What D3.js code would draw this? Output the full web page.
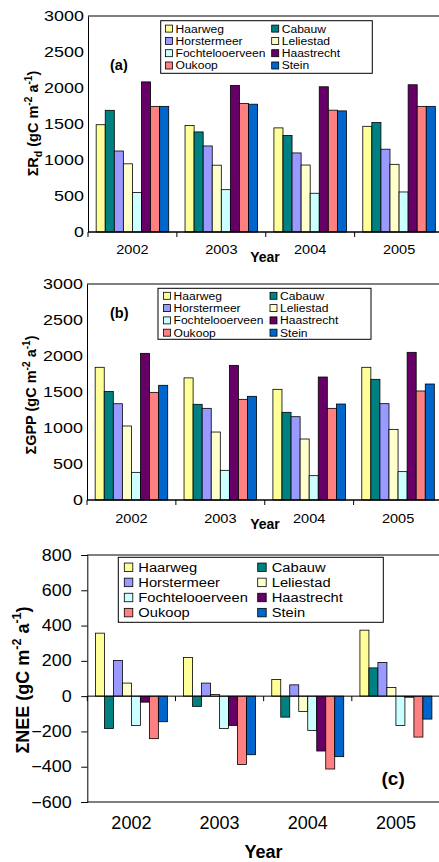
<!DOCTYPE html>
<html>
<head>
<meta charset="utf-8">
<script src="https://cdn.jsdelivr.net/npm/d3@7"></script>
<style>
  html, body { margin: 0; padding: 0; background: #fff; }
  svg { display: block; font-family: "Liberation Sans", Arial, sans-serif; }
</style>
</head>
<body>
<svg id="chart" width="439" height="862"></svg>
<script>
// ---------------- data ----------------
const years = ["2002", "2003", "2004", "2005"];
const sites = ["Haarweg", "Cabauw", "Horstermeer", "Leliestad",
               "Fochtelooerveen", "Haastrecht", "Oukoop", "Stein"];
const siteColors = ["#ffff99", "#008080", "#9999ff", "#ffffcc",
                    "#ccffff", "#660066", "#ff8080", "#0066cc"];

// rows = years, columns = sites (same order as `sites`)
const rdValues = [
  [1490, 1690, 1125, 947, 550, 2085, 1745, 1745],
  [1478, 1390, 1195, 928, 588, 2035, 1785, 1775],
  [1446, 1340, 1098, 930, 538, 2017, 1692, 1682],
  [1468, 1520, 1150, 940, 556, 2045, 1745, 1745]
];
const gppValues = [
  [1843, 1507, 1337, 1028, 384, 2037, 1495, 1593],
  [1696, 1329, 1273, 944, 412, 1870, 1398, 1440],
  [1537, 1218, 1157, 847, 338, 1708, 1273, 1333],
  [1843, 1676, 1338, 981, 394, 2051, 1514, 1611]
];
const neeValues = [
  [357, -183, 202, 74, -166, -34, -241, -145],
  [219, -58, 74, 9, -183, -166, -387, -332],
  [94, -119, 64, -87, -194, -311, -413, -343],
  [374, 160, 191, 49, -166, -6, -232, -130]
];

const rdTicks  = [0, 500, 1000, 1500, 2000, 2500, 3000];
const gppTicks = [0, 500, 1000, 1500, 2000, 2500, 3000];
const neeTicks = [-600, -400, -200, 0, 200, 400, 600, 800];

// ---------------- drawing ----------------
const svg = d3.select("#chart");

function drawPanel(cfg) {
  const g = svg.append("g");
  const x = d3.scaleBand().domain(years).range([cfg.x0, cfg.x1]).paddingInner(0).paddingOuter(0);
  const xs = d3.scaleBand().domain(sites).range([0, x.bandwidth()]).paddingInner(0).paddingOuter(0.9);
  const y = d3.scaleLinear().domain(cfg.domain).range([cfg.yBottom, cfg.yTop]);
  const zeroY = y(0);

  // bars
  years.forEach((yr, yi) => {
    const grp = g.append("g").attr("transform", `translate(${x(yr)},0)`);
    grp.selectAll("rect.bar")
      .data(cfg.values[yi].map((v, si) => ({ v, site: sites[si], color: siteColors[si] })))
      .join("rect")
      .attr("class", "bar")
      .attr("x", d => xs(d.site))
      .attr("width", xs.bandwidth())
      .attr("y", d => Math.min(y(d.v), zeroY))
      .attr("height", d => Math.abs(y(d.v) - zeroY))
      .attr("fill", d => d.color)
      .attr("stroke", "#000")
      .attr("stroke-width", 0.8);
  });

  // plot area border (top / bottom)
  g.append("line").attr("x1", cfg.x0).attr("x2", cfg.x1 + 5)
    .attr("y1", cfg.yTop).attr("y2", cfg.yTop).attr("stroke", "#000").attr("stroke-width", 1);
  g.append("line").attr("x1", cfg.x0).attr("x2", cfg.x1 + 5)
    .attr("y1", cfg.yBottom).attr("y2", cfg.yBottom).attr("stroke", "#000").attr("stroke-width", 1);

  // y axis
  const yAxis = d3.axisLeft(y).tickValues(cfg.ticks).tickSize(cfg.yTickSize).tickPadding(cfg.yTickPad)
    .tickFormat(d3.format("d"));
  const ya = g.append("g").attr("transform", `translate(${cfg.x0},0)`).call(yAxis);
  ya.select(".domain").attr("stroke", "#000").attr("stroke-width", 1);
  ya.selectAll(".tick line").attr("stroke", "#000");
  ya.selectAll(".tick text")
    .attr("fill", "#000")
    .style("font-size", cfg.yFont + "px")
    .style("font-family", "'Liberation Sans', Arial, sans-serif")
    .attr("transform", `scale(${cfg.yStretch},1)`);

  // x axis line at zero
  g.append("line").attr("x1", cfg.x0).attr("x2", cfg.x1 + 5)
    .attr("y1", zeroY).attr("y2", zeroY).attr("stroke", "#000").attr("stroke-width", 1);
  // category boundary ticks
  const bounds = years.map(yr => x(yr)).concat([cfg.x1]);
  g.selectAll("line.xtick").data(bounds).join("line")
    .attr("class", "xtick")
    .attr("x1", d => d).attr("x2", d => d)
    .attr("y1", zeroY).attr("y2", zeroY + 5)
    .attr("stroke", "#000").attr("stroke-width", 1);

  // category labels
  g.selectAll("text.xlab").data(years).join("text")
    .attr("class", "xlab")
    .attr("text-anchor", "middle")
    .attr("transform", d => `translate(${x(d) + x.bandwidth() / 2},${cfg.xLabY}) scale(${cfg.xStretch},1)`)
    .style("font-size", cfg.xFont + "px")
    .text(d => d);

  // "Year"
  g.append("text").attr("x", cfg.yearX).attr("y", cfg.yearY)
    .attr("text-anchor", "middle").style("font-size", cfg.yearFont + "px").style("font-weight", "bold")
    .text("Year");

  // y title
  const t = g.append("text")
    .attr("transform", `translate(${cfg.titleX},${cfg.titleY}) rotate(-90)`)
    .attr("text-anchor", "middle")
    .style("font-size", cfg.titleFont + "px").style("font-weight", "bold");
  const f = cfg.titleFont;
  cfg.titleParts.forEach(p => {
    const ts = t.append("tspan").text(p.t);
    if (p.sub) ts.attr("dy", f * 0.25).style("font-size", (f * 0.72) + "px");
    if (p.sup) ts.attr("dy", -f * 0.42).style("font-size", (f * 0.7) + "px");
    if (p.back) ts.attr("dy", p.back * f);
  });

  // panel tag
  g.append("text").attr("x", cfg.tagX).attr("y", cfg.tagY)
    .style("font-size", cfg.tagFont + "px").style("font-weight", "bold").text(cfg.tag);

  // legend
  const L = cfg.legend;
  const lg = g.append("g");
  lg.append("rect").attr("x", L.x).attr("y", L.y).attr("width", L.w).attr("height", L.h)
    .attr("fill", "#fff").attr("stroke", "#000").attr("stroke-width", 1);
  const items = lg.selectAll("g.item").data(sites).join("g").attr("class", "item")
    .attr("transform", (d, i) => `translate(${i % 2 === 0 ? L.c1 : L.c2},${L.row0 + Math.floor(i / 2) * L.dy})`);
  items.append("rect")
    .attr("x", 0).attr("y", -L.sw / 2).attr("width", L.sw).attr("height", L.sw)
    .attr("fill", (d, i) => siteColors[i]).attr("stroke", "#000").attr("stroke-width", 0.8);
  items.append("text")
    .attr("transform", `translate(${L.tx},0) scale(${L.stretch},1)`)
    .attr("dy", "0.36em")
    .style("font-size", L.font + "px")
    .text(d => d);
}

drawPanel({
  values: rdValues, ticks: rdTicks, domain: [0, 3000],
  x0: 88, x1: 443.5, yTop: 16, yBottom: 232,
  yTickSize: 0, yTickPad: 3.2, yFont: 14, yStretch: 1.28,
  xLabY: 254, xFont: 13, xStretch: 1.12,
  yearX: 265, yearY: 262, yearFont: 14,
  titleX: 38, titleY: 123.5, titleFont: 14.5,
  titleParts: [{ t: "ΣR" }, { t: "d", sub: true }, { t: " (gC m", back: -0.25 }, { t: "-2", sup: true },
               { t: " a", back: 0.42 }, { t: "-1", sup: true }, { t: ")", back: 0.42 }],
  tag: "(a)", tagX: 110, tagY: 70, tagFont: 14.5,
  legend: { x: 160.7, y: 20.7, w: 211.6, h: 52.6, c1: 165.5, c2: 271.7, row0: 28.6, dy: 12.3, sw: 7, tx: 10, font: 11, stretch: 1.1 }
});

drawPanel({
  values: gppValues, ticks: gppTicks, domain: [0, 3000],
  x0: 87, x1: 442.5, yTop: 284, yBottom: 500,
  yTickSize: 0, yTickPad: 3.2, yFont: 14, yStretch: 1.28,
  xLabY: 523, xFont: 13, xStretch: 1.12,
  yearX: 265, yearY: 529, yearFont: 14,
  titleX: 36, titleY: 395, titleFont: 14.5,
  titleParts: [{ t: "ΣGPP (gC m" }, { t: "-2", sup: true },
               { t: " a", back: 0.42 }, { t: "-1", sup: true }, { t: ")", back: 0.42 }],
  tag: "(b)", tagX: 110, tagY: 318, tagFont: 14.5,
  legend: { x: 158, y: 288.3, w: 213, h: 51, c1: 163.5, c2: 270, row0: 295.8, dy: 12.3, sw: 7, tx: 10, font: 11, stretch: 1.1 }
});

drawPanel({
  values: neeValues, ticks: neeTicks, domain: [-600, 800],
  x0: 87.3, x1: 440, yTop: 555, yBottom: 802,
  yTickSize: 6, yTickPad: 8, yFont: 16, yStretch: 1.12,
  xLabY: 829, xFont: 18, xStretch: 1.0,
  yearX: 263.5, yearY: 858, yearFont: 18,
  titleX: 29, titleY: 680, titleFont: 18,
  titleParts: [{ t: "ΣNEE (gC m" }, { t: "-2", sup: true },
               { t: " a", back: 0.42 }, { t: "-1", sup: true }, { t: ")", back: 0.42 }],
  tag: "(c)", tagX: 381.5, tagY: 785, tagFont: 19,
  legend: { x: 118.3, y: 557.3, w: 265, h: 65, c1: 124.3, c2: 257.7, row0: 567.3, dy: 15.1, sw: 8.5, tx: 14, font: 13.5, stretch: 1.09 }
});
</script>
</body>
</html>
